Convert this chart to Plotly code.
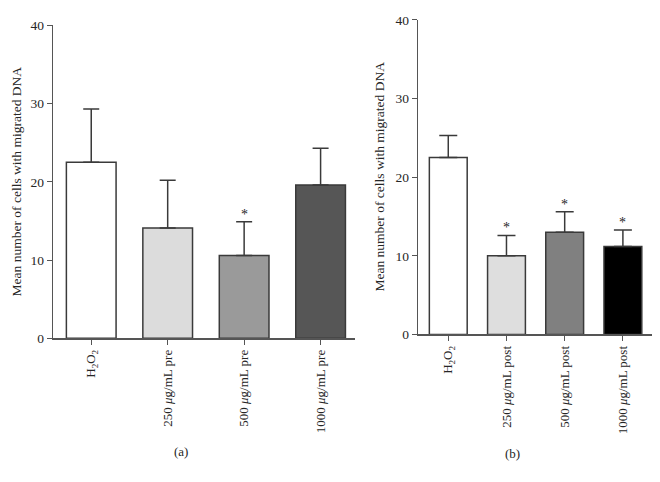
import plotly.graph_objects as go

cats_a = ["H<sub>2</sub>O<sub>2</sub>", "250 <i>μ</i>g/mL pre", "500 <i>μ</i>g/mL pre", "1000 <i>μ</i>g/mL pre"]
means_a = [22.5, 14.1, 10.6, 19.6]
errs_a = [6.8, 6.1, 4.3, 4.7]
colors_a = ["#ffffff", "#dcdcdc", "#9a9a9a", "#565656"]
sig_a = [False, False, True, False]

cats_b = ["H<sub>2</sub>O<sub>2</sub>", "250 <i>μ</i>g/mL post", "500 <i>μ</i>g/mL post", "1000 <i>μ</i>g/mL post"]
means_b = [22.5, 10.0, 13.0, 11.2]
errs_b = [2.8, 2.6, 2.6, 2.1]
colors_b = ["#ffffff", "#dedede", "#808080", "#000000"]
sig_b = [False, True, True, True]

yticks = [0, 10, 20, 30, 40]
ytitle = "Mean number of cells with migrated DNA"
FONT = "Liberation Serif, Times New Roman, serif"
LINE = "#3a3a3a"
TXT = "#262626"

fig = go.Figure()
annots = []

def add_panel(cats, means, errs, colors, sig, xa, ya, capw):
    xs = list(range(len(cats)))
    fig.add_trace(go.Bar(
        x=xs, y=means, width=0.65,
        marker=dict(color=colors, line=dict(color=LINE, width=1.5)),
        error_y=dict(type="data", symmetric=False, array=errs,
                     arrayminus=[0] * len(errs), color=LINE, thickness=1.5, width=capw),
        xaxis=xa, yaxis=ya, showlegend=False, hoverinfo="skip"))
    for x, m, e, s in zip(xs, means, errs, sig):
        if s:
            annots.append(dict(text="*", x=x, y=m + e, xref=xa, yref=ya,
                               xanchor="center", yanchor="bottom", yshift=-2,
                               showarrow=False, font=dict(family=FONT, size=14, color=TXT)))

add_panel(cats_a, means_a, errs_a, colors_a, sig_a, "x", "y", 8)
add_panel(cats_b, means_b, errs_b, colors_b, sig_b, "x2", "y2", 9)

W, H = 660, 482
def px(x): return x / W
def py(y): return 1 - y / H

xcommon = dict(showline=True, linecolor="#555", linewidth=1.3, ticks="outside",
               ticklen=5, tickcolor="#555", tickangle=-90, showgrid=False, zeroline=False,
               tickfont=dict(family=FONT, size=13, color=TXT), tickmode="array",
               tickvals=[0, 1, 2, 3])
ycommon = dict(showline=True, linecolor="#555", linewidth=1.3, ticks="outside",
               ticklen=5, tickcolor="#555", showgrid=False, zeroline=False,
               tickfont=dict(family=FONT, size=13.5, color=TXT), tickmode="array",
               tickvals=yticks, range=[0, 40])

def note(text, x, y, size, angle=0):
    return dict(text=text, textangle=angle, x=px(x), y=py(y), xref="paper", yref="paper",
                xanchor="center", yanchor="middle", showarrow=False,
                font=dict(family=FONT, size=size, color=TXT))

annots += [
    note(ytitle, 16, 180, 13.5, -90),
    note(ytitle, 380, 175, 13.5, -90),
    note("(a)", 181, 459, 13),
    note("(b)", 512, 461, 13),
]

fig.update_layout(
    width=W, height=H, margin=dict(l=0, r=0, t=0, b=0),
    plot_bgcolor="white", paper_bgcolor="white", bargap=0,
    xaxis=dict(domain=[px(53), px(355)], range=[-0.5, 3.45], ticktext=cats_a, anchor="y", **xcommon),
    yaxis=dict(domain=[py(342), py(19)], anchor="x", **ycommon),
    xaxis2=dict(domain=[px(418), px(652)], range=[-0.52, 3.5], ticktext=cats_b, anchor="y2", **xcommon),
    yaxis2=dict(domain=[py(338), py(13.3)], anchor="x2", **ycommon),
    annotations=annots,
)

fig.write_html(
    "out.html",
    config={"displayModeBar": False, "staticPlot": True},
    post_script=(
        "document.documentElement.style.margin='0';"
        "document.body.style.margin='0';"
        "document.documentElement.style.overflow='hidden';"
        "document.body.style.overflow='hidden';"
        "window.scrollTo(0,0);"
    ),
)
